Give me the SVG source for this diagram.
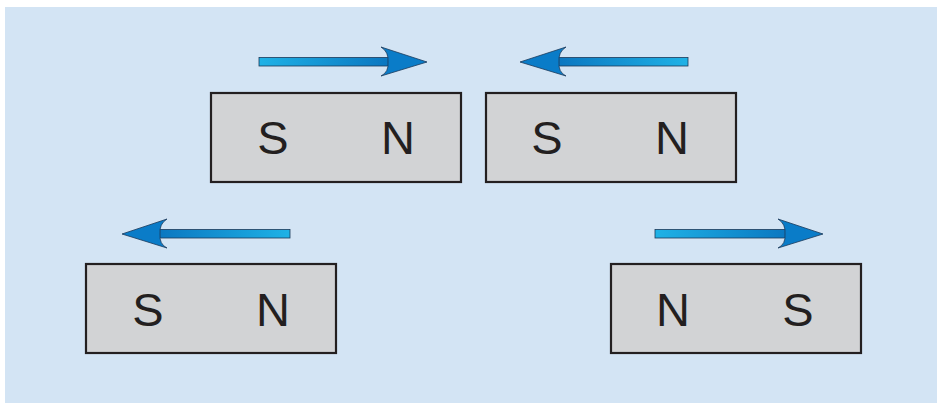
<svg xmlns="http://www.w3.org/2000/svg" width="937" height="403" viewBox="0 0 937 403">
<defs>
<linearGradient id="gR" x1="0" y1="0" x2="1" y2="0">
<stop offset="0" stop-color="#1fb2e6"/>
<stop offset="1" stop-color="#0a76c0"/>
</linearGradient>
<linearGradient id="gL" x1="1" y1="0" x2="0" y2="0">
<stop offset="0" stop-color="#1fb2e6"/>
<stop offset="1" stop-color="#0a76c0"/>
</linearGradient>
<style>
.mag{fill:#d2d3d5;stroke:#231f20;stroke-width:2.2}
.lbl{font-family:"Liberation Sans",Arial,sans-serif;font-size:47px;fill:#231f20;text-anchor:middle}
.shaft{stroke:#1c3a5a;stroke-width:0.8}
.head{fill:#0a7cc8;stroke:#1c3a5a;stroke-width:0.8}
</style>
</defs>
<rect x="5" y="7" width="932" height="396" fill="#d3e4f4"/>
<g id="connectors">
<g id="arrow1">
<rect class="shaft" x="259" y="57.5" width="130" height="8.5" fill="url(#gR)"/>
<path class="head" d="M427,62 L381,47 Q389,52 388,62 Q389,72 381,76 Z"/>
</g>
<g id="arrow2">
<rect class="shaft" x="557" y="57.5" width="131" height="8.5" fill="url(#gL)"/>
<path class="head" d="M520,62 L566,47 Q558,52 559,62 Q558,72 566,76 Z"/>
</g>
<g id="arrow3">
<rect class="shaft" x="157" y="229.5" width="133" height="8.5" fill="url(#gL)"/>
<path class="head" d="M122,234 L167,219 Q159,224 160,234 Q159,244 167,248 Z"/>
</g>
<g id="arrow4">
<rect class="shaft" x="655" y="229.5" width="133" height="8.5" fill="url(#gR)"/>
<path class="head" d="M823,234 L778,219 Q786,224 785,234 Q786,244 778,248 Z"/>
</g>
</g>
<g id="magnet1">
<rect class="mag" x="211" y="93" width="250" height="89"/>
<text class="lbl" x="273" y="154">S</text>
<text class="lbl" x="398" y="154">N</text>
</g>
<g id="magnet2">
<rect class="mag" x="486" y="93" width="250" height="89"/>
<text class="lbl" x="547" y="154">S</text>
<text class="lbl" x="672" y="154">N</text>
</g>
<g id="magnet3">
<rect class="mag" x="86" y="264" width="250" height="89"/>
<text class="lbl" x="148" y="326">S</text>
<text class="lbl" x="273" y="326">N</text>
</g>
<g id="magnet4">
<rect class="mag" x="611" y="264" width="250" height="89"/>
<text class="lbl" x="673" y="326">N</text>
<text class="lbl" x="798" y="326">S</text>
</g>
</svg>
